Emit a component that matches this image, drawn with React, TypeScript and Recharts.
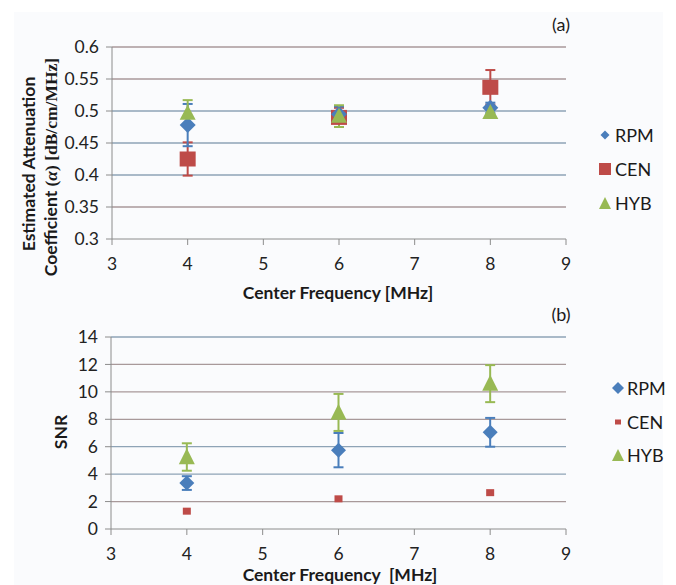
import React from 'react';
import { ScatterChart, Scatter, XAxis, YAxis, ErrorBar, ReferenceLine } from 'recharts';

const freqs = [4, 6, 8];
const xTicks = [3, 4, 5, 6, 7, 8, 9];
const seriesNames = ['RPM', 'CEN', 'HYB'];

// (a) attenuation coefficient
const attRPM = [0.478, 0.495, 0.505];
const attRPMErr = [0.033, 0.012, 0.008];
const attCEN = [0.425, 0.49, 0.537];
const attCENErr = [0.026, 0.015, 0.027];
const attHYB = [0.497, 0.492, 0.498];
const attHYBErr = [0.02, 0.017, 0.006];
const attTicks = [0.3, 0.35, 0.4, 0.45, 0.5, 0.55, 0.6];

// (b) SNR
const snrRPM = [3.35, 5.75, 7.05];
const snrRPMErr = [0.5, 1.25, 1.05];
const snrCEN = [1.3, 2.2, 2.65];
const snrHYB = [5.25, 8.5, 10.6];
const snrHYBErr = [1.0, 1.35, 1.35];
const snrTicks = [0, 2, 4, 6, 8, 10, 12, 14];

const BLUE = '#4a7ebb';
const RED = '#be4b48';
const GREEN = '#98b954';
const AXIS = '#8c8c8c';
const FONT = 'Lato, "Open Sans", sans-serif';
const REDDISH = '#a8999a';
const BLUISH = '#8ea3b6';

const rows = (vals: number[], errs?: number[]) =>
  freqs.map((x, i) => ({ x, y: vals[i], err: errs ? errs[i] : 0 }));

const diamond = (h: number, color: string) => (p: any) => (
  <path d={`M${p.cx},${p.cy - h}L${p.cx + h},${p.cy}L${p.cx},${p.cy + h}L${p.cx - h},${p.cy}Z`} fill={color} />
);
const square = (w: number, hh: number, color: string) => (p: any) => (
  <rect x={p.cx - w} y={p.cy - hh} width={w * 2} height={hh * 2} fill={color} />
);
const triangle = (w: number, h: number, color: string) => (p: any) => (
  <path d={`M${p.cx},${p.cy - h * 0.55}L${p.cx + w},${p.cy + h * 0.45}L${p.cx - w},${p.cy + h * 0.45}Z`} fill={color} />
);

const tickStyle = { fontSize: 17.5, fill: '#222', fontFamily: FONT };

const Text: React.FC<{ x: number; y: number; rotate?: boolean; bold?: boolean; size?: number; children: React.ReactNode }> = ({ x, y, rotate, bold, size = 17.5, children }) => (
  <div
    style={{
      position: 'absolute', left: x, top: y, whiteSpace: 'nowrap', fontFamily: FONT, fontSize: size,
      fontWeight: bold ? 700 : 400, color: '#1a1a1a', lineHeight: 1,
      transform: `translate(-50%, -50%)${rotate ? ' rotate(-90deg)' : ''}`,
    }}
  >
    {children}
  </div>
);

const LegendBox: React.FC<{ x: number; ys: number[]; icons: React.ReactNode[]; textX: number }> = ({ x, ys, icons, textX }) => (
  <>
    {seriesNames.map((name, i) => (
      <React.Fragment key={name}>
        <svg style={{ position: 'absolute', left: x - 8, top: ys[i] - 8 }} width={16} height={16}>
          {icons[i]}
        </svg>
        <div style={{ position: 'absolute', left: textX, top: ys[i] - 10, fontFamily: FONT, fontSize: 18, color: '#1a1a1a', lineHeight: '20px' }}>
          {name}
        </div>
      </React.Fragment>
    ))}
  </>
);

const App: React.FC = () => {
  const attGrid = [REDDISH, BLUISH, BLUISH, BLUISH, REDDISH, REDDISH];
  const snrGrid = [REDDISH, BLUISH, BLUISH, REDDISH, REDDISH, REDDISH, BLUISH];
  return (
    <div style={{ position: 'absolute', left: 0, top: 0, width: 676, height: 585, background: '#fff', overflow: 'hidden' }}>
      <div style={{ position: 'absolute', left: 14, top: 12, width: 649, height: 573, background: '#fafbfd' }} />

      {/* (a) */}
      <div style={{ position: 'absolute', left: 0, top: 0 }}>
        <ScatterChart width={676} height={300} margin={{ top: 47, right: 110, left: 0, bottom: 31 }}>
          <XAxis type="number" dataKey="x" domain={[3, 9]} ticks={xTicks} height={30}
            stroke={AXIS} tickSize={6} tickMargin={13} tick={tickStyle} />
          <YAxis type="number" dataKey="y" domain={[0.3, 0.6]} ticks={attTicks} width={112}
            stroke={AXIS} tickSize={6} tickMargin={7} tick={tickStyle} />
          {attTicks.slice(1).map((t, i) => (
            <ReferenceLine key={t} y={t} stroke={attGrid[i]} strokeWidth={1.3} />
          ))}
          <Scatter data={rows(attCEN, attCENErr)} shape={square(8, 7.5, RED)} isAnimationActive={false}>
            <ErrorBar dataKey="err" direction="y" width={5} strokeWidth={2} stroke={RED} />
          </Scatter>
          <Scatter data={rows(attRPM, attRPMErr)} shape={diamond(8, BLUE)} isAnimationActive={false}>
            <ErrorBar dataKey="err" direction="y" width={5} strokeWidth={2} stroke={BLUE} />
          </Scatter>
          <Scatter data={rows(attHYB, attHYBErr)} shape={triangle(8, 15, GREEN)} isAnimationActive={false}>
            <ErrorBar dataKey="err" direction="y" width={5} strokeWidth={2} stroke={GREEN} />
          </Scatter>
        </ScatterChart>
      </div>

      {/* (b) */}
      <div style={{ position: 'absolute', left: 0, top: 300 }}>
        <ScatterChart width={676} height={285} margin={{ top: 37, right: 110, left: 0, bottom: 26 }}>
          <XAxis type="number" dataKey="x" domain={[3, 9]} ticks={xTicks} height={30}
            stroke={AXIS} tickSize={6} tickMargin={13} tick={tickStyle} />
          <YAxis type="number" dataKey="y" domain={[0, 14]} ticks={snrTicks} width={111}
            stroke={AXIS} tickSize={6} tickMargin={7} tick={tickStyle} />
          {snrTicks.slice(1).map((t, i) => (
            <ReferenceLine key={t} y={t} stroke={snrGrid[i]} strokeWidth={1.3} />
          ))}
          <Scatter data={rows(snrCEN)} shape={square(4, 3.5, RED)} isAnimationActive={false} />
          <Scatter data={rows(snrRPM, snrRPMErr)} shape={diamond(7.5, BLUE)} isAnimationActive={false}>
            <ErrorBar dataKey="err" direction="y" width={5} strokeWidth={2} stroke={BLUE} />
          </Scatter>
          <Scatter data={rows(snrHYB, snrHYBErr)} shape={triangle(8, 16, GREEN)} isAnimationActive={false}>
            <ErrorBar dataKey="err" direction="y" width={5} strokeWidth={2} stroke={GREEN} />
          </Scatter>
        </ScatterChart>
      </div>

      <Text x={561} y={24} size={18}>(a)</Text>
      <Text x={561} y={314} size={18}>(b)</Text>
      <Text x={338} y={293} bold>Center Frequency [MHz]</Text>
      <Text x={340} y={575} bold>Center Frequency&nbsp; [MHz]</Text>
      <Text x={29} y={164} rotate bold>Estimated Attenuation</Text>
      <Text x={51} y={167} rotate bold>
        Coefficient <span style={{ fontFamily: '"Liberation Serif", serif' }}>(<i>α</i>) [dB/cm/MHz]</span>
      </Text>
      <Text x={61} y={432} rotate bold>SNR</Text>

      <LegendBox
        x={605}
        textX={615}
        ys={[135, 169, 203]}
        icons={[
          <path key="d" d="M8,3.5L12.5,8L8,12.5L3.5,8Z" fill={BLUE} />,
          <rect key="s" x={2} y={2} width={12} height={12} fill={RED} />,
          <path key="t" d="M8,2L14,14L2,14Z" fill={GREEN} />,
        ]}
      />
      <LegendBox
        x={618}
        textX={627}
        ys={[388, 422, 455]}
        icons={[
          <path key="d" d="M8,2L14,8L8,14L2,8Z" fill={BLUE} />,
          <rect key="s" x={5} y={5.5} width={6} height={5} fill={RED} />,
          <path key="t" d="M8,2L14,14L2,14Z" fill={GREEN} />,
        ]}
      />
    </div>
  );
};

export default App;
